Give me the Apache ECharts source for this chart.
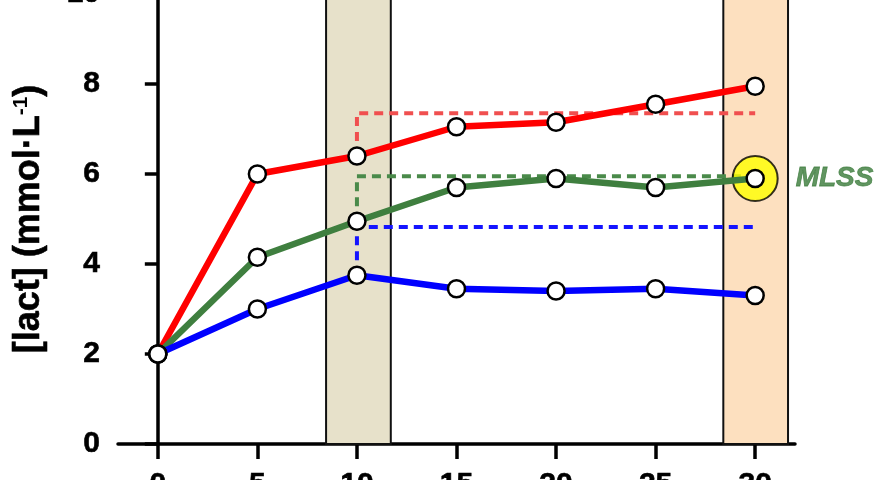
<!DOCTYPE html>
<html>
<head>
<meta charset="utf-8">
<script src="https://cdn.jsdelivr.net/npm/echarts@6/dist/echarts.min.js"></script>
<style>
  html, body { margin: 0; padding: 0; background: #fff; overflow: hidden; }
  #chart { position: absolute; left: 0; top: -6px; width: 880px; height: 486px; }
</style>
</head>
<body>
<div id="chart"></div>
<script>
    // data
    var minutes = [0, 5, 10, 15, 20, 25, 30];
    var lactHigh = [2, 6, 6.4, 7.05, 7.15, 7.55, 7.95];   // red
    var lactMlss = [2, 4.15, 4.95, 5.7, 5.9, 5.7, 5.9];   // green
    var lactLow = [2, 3.0, 3.75, 3.45, 3.4, 3.45, 3.3];   // blue
    var refStart = 10, refEnd = 30;
    var refHigh = 7.35, refMlss = 5.95, refLow = 4.82;   // dashed levels
    var bandEarly = [8.45, 11.7];
    var bandLate = [28.4, 31.65];
    var mlssPoint = [30, 5.9];
    var xTicks = [0, 5, 10, 15, 20, 25, 30];

    function pairs(ys) {
        var out = [];
        for (var i = 0; i < minutes.length; i++) out.push([minutes[i], ys[i]]);
        return out;
    }
    function dashPath(startY, level) {
        return [[refStart, startY], [refStart, level], [refEnd, level]];
    }

    var myChart = echarts.init(document.getElementById('chart'));

    function solid(name, color, ys) {
        return {
            name: name, type: 'line', z: 5, data: pairs(ys),
            symbol: 'circle', symbolSize: 17,
            lineStyle: { color: color, width: 6.5 },
            itemStyle: { color: '#fff', borderColor: '#000', borderWidth: 2.5 },
            animation: false
        };
    }
    function dashed(color, startY, level) {
        return {
            type: 'line', z: 2, data: dashPath(startY, level), symbol: 'none',
            lineStyle: { color: color, width: 4, type: [9, 6] },
            animation: false, silent: true
        };
    }

    // bold black tick labels, slightly thickened
    var tickFont = { color: '#000', fontSize: 30, fontWeight: 'bold', fontFamily: 'Liberation Sans', textBorderColor: '#000', textBorderWidth: 0.6 };

    var option = {
        backgroundColor: '#fff',
        grid: { left: 118, right: 85, top: 0, bottom: 36, containLabel: false, outerBoundsMode: 'none' },
        xAxis: {
            type: 'value', min: -2, max: 32,
            axisLine: { lineStyle: { color: '#000', width: 3.5 } },
            axisTick: { customValues: xTicks, length: 15, lineStyle: { width: 3.5, color: '#000' } },
            axisLabel: Object.assign({ customValues: xTicks, margin: 26 }, tickFont),
            splitLine: { show: false }
        },
        yAxis: {
            type: 'value', min: 0, max: 10, interval: 2,
            name: '{a|[lact] (mmol·L}{s|-1}{a|)}',
            nameLocation: 'middle', nameGap: 70, nameRotate: 90,
            nameTextStyle: {
                rich: {
                    a: { fontSize: 36, fontWeight: 'bold', color: '#000', fontFamily: 'Liberation Sans', textBorderColor: '#000', textBorderWidth: 0.6 },
                    s: { fontSize: 21, fontWeight: 'bold', color: '#000', fontFamily: 'Liberation Sans', verticalAlign: 'top', padding: [0, 0, 16, 0] }
                }
            },
            axisLine: { show: true, lineStyle: { color: '#000', width: 3.5 } },
            axisTick: { show: true, length: 13, lineStyle: { width: 3.5, color: '#000' } },
            axisLabel: Object.assign({ margin: 18 }, tickFont),
            splitLine: { show: false }
        },
        series: [
            {
                type: 'line', z: 1, data: [], silent: true, animation: false,
                markArea: {
                    silent: true,
                    data: [
                        [{ xAxis: bandEarly[0], yAxis: 0, itemStyle: { color: '#e7e1ca' } }, { xAxis: bandEarly[1], yAxis: 10 }],
                        [{ xAxis: bandLate[0], yAxis: 0, itemStyle: { color: '#fde0bf' } }, { xAxis: bandLate[1], yAxis: 10 }]
                    ],
                    itemStyle: { borderColor: '#111', borderWidth: 2 }
                }
            },
            dashed('#f04f4f', lactHigh[2], refHigh),
            dashed('#4a8a4a', lactMlss[2], refMlss),
            dashed('#1414ff', lactLow[2], refLow),
            {
                type: 'scatter', z: 3, data: [mlssPoint], symbolSize: 45, animation: false,
                itemStyle: { color: '#ffff00', borderColor: '#000', borderWidth: 2 },
                label: {
                    show: true, position: 'right', distance: 17, formatter: 'MLSS',
                    color: '#3a7a3a', fontSize: 28, fontWeight: 'bold', fontStyle: 'italic', fontFamily: 'Liberation Sans',
                    textBorderColor: '#3a7a3a', textBorderWidth: 0.8
                }
            },
            solid('high', '#ff0000', lactHigh),
            solid('mlss', '#3f7f3f', lactMlss),
            solid('low', '#0000ff', lactLow)
        ]
    };

    myChart.setOption(option);
</script>
</body>
</html>
